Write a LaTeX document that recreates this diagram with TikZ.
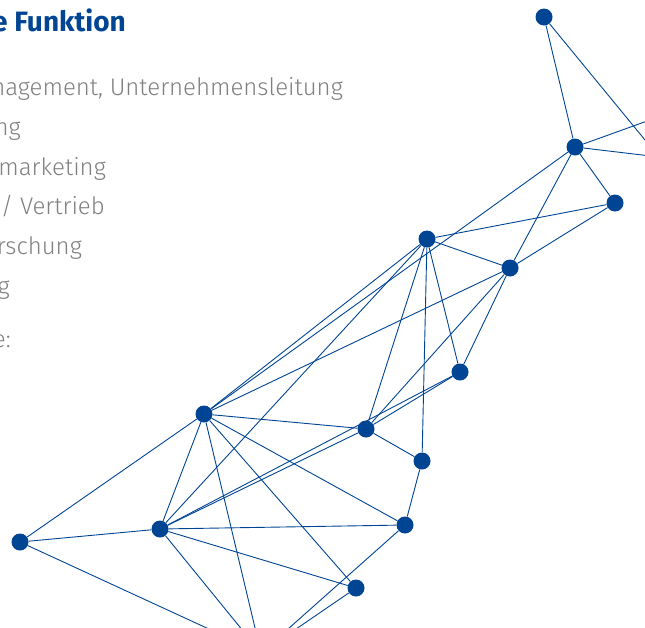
\documentclass[tikz,border=0pt]{standalone}
\usepackage{fontspec}
\setmainfont{Fira Sans}
\newfontfamily\duenn{Fira Sans Light}
\definecolor{blauNetz}{HTML}{004494}
\definecolor{grauText}{HTML}{808080}

\begin{document}
\begin{tikzpicture}[x=1pt,y=-1pt,
  knoten/.style={circle,fill=blauNetz,inner sep=0pt,minimum size=17pt},
  kante/.style={blauNetz,line width=0.9pt},
  zeile/.style={anchor=base east,inner sep=0pt,color=grauText,font=\duenn\fontsize{24}{30}\selectfont}]
  \useasboundingbox (0,0) rectangle (645,627);
  \clip (0,0) rectangle (645,627);
  \node[anchor=base east,inner sep=0pt,color=blauNetz,font=\bfseries\fontsize{28}{34}\selectfont] (titel) at (126,31) {e Funktion};
  \node[zeile] (z1) at (343,95) {nagement, Unternehmensleitung};
  \node[zeile] (z2) at (21,135) {ng};
  \node[zeile] (z3) at (106,175) {marketing};
  \node[zeile] (z4) at (105,214) {/ Vertrieb};
  \node[zeile] (z5) at (82,254) {rschung};
  \node[zeile] (z6) at (10,294) {g};
  \node[zeile] (z7) at (11,347) {e:};
  \node[knoten] (a) at (544,17) {};
  \node[knoten] (b) at (575,147) {};
  \node[knoten] (c) at (615,203) {};
  \node[knoten] (d) at (427,239) {};
  \node[knoten] (e) at (510,268) {};
  \node[knoten] (f) at (460,372) {};
  \node[knoten] (g) at (204,414) {};
  \node[knoten] (h) at (366,429) {};
  \node[knoten] (i) at (422,461) {};
  \node[knoten] (j) at (405,525) {};
  \node[knoten] (k) at (160,529) {};
  \node[knoten] (l) at (20,542) {};
  \node[knoten] (m) at (356,588) {};
  \node[knoten] (n) at (261,653) {};
  \node[knoten] (p) at (659,157) {};
  \node[knoten] (q) at (700,102) {};
  \draw[kante] (a) -- (b);
  \draw[kante] (a) -- (p);
  \draw[kante] (b) -- (c);
  \draw[kante] (b) -- (e);
  \draw[kante] (b) -- (g);
  \draw[kante] (b) -- (p);
  \draw[kante] (b) -- (q);
  \draw[kante] (c) -- (d);
  \draw[kante] (c) -- (e);
  \draw[kante] (d) -- (e);
  \draw[kante] (d) -- (f);
  \draw[kante] (d) -- (g);
  \draw[kante] (d) -- (h);
  \draw[kante] (d) -- (i);
  \draw[kante] (d) -- (k);
  \draw[kante] (e) -- (f);
  \draw[kante] (e) -- (g);
  \draw[kante] (e) -- (h);
  \draw[kante] (f) -- (h);
  \draw[kante] (f) -- (k);
  \draw[kante] (g) -- (h);
  \draw[kante] (g) -- (k);
  \draw[kante] (g) -- (l);
  \draw[kante] (g) -- (j);
  \draw[kante] (g) -- (m);
  \draw[kante] (g) -- (n);
  \draw[kante] (h) -- (i);
  \draw[kante] (h) -- (k);
  \draw[kante] (i) -- (j);
  \draw[kante] (j) -- (k);
  \draw[kante] (j) -- (n);
  \draw[kante] (k) -- (l);
  \draw[kante] (k) -- (m);
  \draw[kante] (k) -- (n);
  \draw[kante] (l) -- (n);
  \draw[kante] (m) -- (n);
\end{tikzpicture}
\end{document}
